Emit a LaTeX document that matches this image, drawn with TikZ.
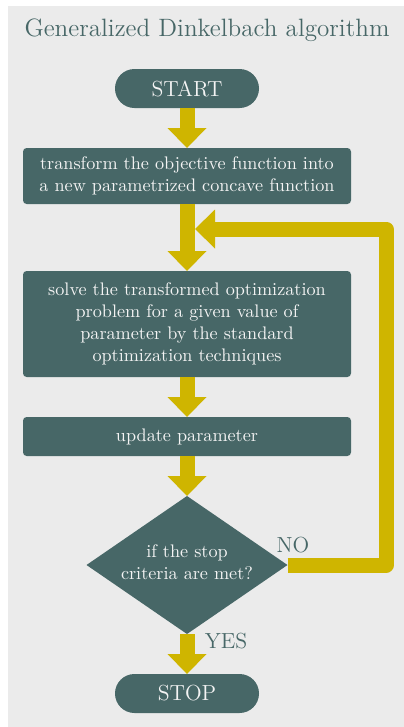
\documentclass[tikz,border=0pt]{standalone}
\usetikzlibrary{arrows.meta,shapes.geometric}
\definecolor{slate}{HTML}{476767}
\definecolor{gold}{HTML}{CFB500}
\definecolor{paper}{HTML}{EBEBEB}
\definecolor{boxtext}{HTML}{F4F4F4}
\begin{document}
\begin{tikzpicture}[x=0.55pt,y=-0.55pt,
  every node/.style={outer sep=0pt},
  terminal/.style={fill=slate, text=boxtext, rounded corners=10.7pt,
    minimum width=79.2pt, minimum height=21.45pt, font=\large, inner sep=0pt},
  process/.style={fill=slate, text=boxtext, rounded corners=2pt,
    minimum width=180.4pt, align=center, inner sep=0pt},
  decision/.style={diamond, fill=slate, text=boxtext, minimum width=110.55pt,
    minimum height=75.9pt, inner sep=0pt, align=center, aspect=1.46,
    text depth=3.5pt},
  flow/.style={draw=gold, line width=8.25pt, line join=round,
    -{Triangle[width=21.45pt,length=11pt,line width=0pt]}},
  answer/.style={text=slate, font=\large}
]
% canvas
\useasboundingbox (0,0) rectangle (404,727);
\fill[paper] (8,6) rectangle (404,727);

% title
\node[font=\fontsize{13.8}{16}\selectfont, text=slate] (title) at (207,30)
  {Generalized Dinkelbach algorithm};

% flowchart nodes
\node[terminal] (start) at (187,88.5) {START};
\node[process, minimum height=30.8pt] (transform) at (187,176)
  {transform the objective function into\\a new parametrized concave function};
\node[process, minimum height=58.3pt] (solve) at (187,324)
  {solve the transformed optimization\\problem for a given value of\\parameter by the standard\\optimization techniques};
\node[process, minimum height=21.45pt] (update) at (187,436.5) {update parameter};
\node[decision] (check) at (187,565) {if the stop\\criteria are met?};
\node[terminal] (stop) at (187,693.5) {STOP};

% connectors
\draw[flow] (start) -- (transform);
\draw[flow] (transform) -- (solve);
\draw[flow] (solve) -- (update);
\draw[flow] (update) -- (check);
\draw[flow] (check) -- (stop);

% feedback loop
\coordinate (loopcorner) at (386,229);
\coordinate (loopend) at (195,229);
\draw[flow] (check.east) -| (loopcorner) -- (loopend);

% branch labels
\node[answer] (no) at (293,545) {NO};
\node[answer] (yes) at (226,641) {YES};
\end{tikzpicture}
\end{document}
